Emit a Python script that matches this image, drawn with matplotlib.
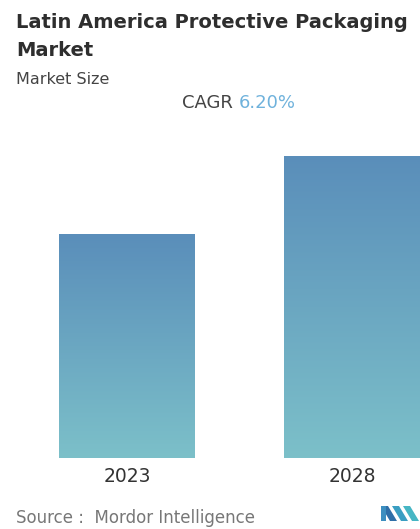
import matplotlib.pyplot as plt
import numpy as np
from matplotlib.colors import LinearSegmentedColormap
from matplotlib.patches import Polygon

# Market size (relative), 2023 vs 2028 at 6.20% CAGR
years = ['2023', '2028']
market_size = [1.00, 1.35]
cagr = '6.20%'

plt.rcParams['font.family'] = ['DejaVu Sans']

W, H = 420, 529
fig = plt.figure(figsize=(W / 100, H / 100), dpi=100)
fig.patch.set_facecolor('white')

# axes spans the full width; bar bottoms sit 71 px above the figure bottom
ax = fig.add_axes([0, 71 / H, 1, 302 / H])
x = np.arange(len(years))
bar_w = 0.604
bars = ax.bar(x, market_size, width=bar_w, color='none', edgecolor='none')

# vertical gradient clipped to each bar
grad = LinearSegmentedColormap.from_list('bar', ['#7cc0c9', '#5a8eba'])
g = np.linspace(0, 1, 256).reshape(-1, 1)
for b in bars:
    x0, w, h = b.get_x(), b.get_width(), b.get_height()
    im = ax.imshow(g, cmap=grad, origin='lower', aspect='auto',
                   extent=[x0, x0 + w, 0, h], zorder=2)
    im.set_clip_path(b)

ax.set_xlim(-0.564, 1.302)
ax.set_ylim(0, 1.35)
ax.axis('off')

# year labels under the bars
for xi, yr in zip(x, years):
    ax.text(xi, -0.04, yr, ha='center', va='top', fontsize=13.5,
            color='#333333', transform=ax.transData)

# header texts
fig.text(16 / W, 1 - 22 / H, 'Latin America Protective Packaging', fontsize=14,
         fontweight='bold', color='#2e2e2e', va='center', ha='left')
fig.text(16 / W, 1 - 50 / H, 'Market', fontsize=14,
         fontweight='bold', color='#2e2e2e', va='center', ha='left')
fig.text(16 / W, 1 - 80 / H, 'Market Size', fontsize=11.5,
         color='#444444', va='center', ha='left')
t1 = fig.text(182 / W, 1 - 103 / H, 'CAGR ', fontsize=13,
              color='#444444', va='center', ha='left')
fig.canvas.draw()
bb = t1.get_window_extent()
fig.text(bb.x1 / W, 1 - 103 / H, cagr, fontsize=13,
         color='#6fb2dc', va='center', ha='left')

# footer
fig.text(16 / W, 1 - 518 / H, 'Source :  Mordor Intelligence', fontsize=12,
         color='#777777', va='center', ha='left')

# small logo in the bottom right corner
def px(pts):
    return [(a / W, 1 - b / H) for a, b in pts]

logo = [
    ([(381, 506), (388, 506), (397, 521), (390, 521)], '#2f6fa8'),
    ([(381, 506), (386, 506), (386, 521), (381, 521)], '#3d8fc0'),
    ([(392, 506), (399, 506), (408, 521), (401, 521)], '#3a9ec2'),
    ([(403, 506), (410, 506), (419, 521), (412, 521)], '#46b6c4'),
]
for pts, c in logo:
    fig.patches.append(Polygon(px(pts), closed=True, facecolor=c,
                               edgecolor='none', transform=fig.transFigure,
                               figure=fig))

fig.savefig('out.png', dpi=100, facecolor='white')
